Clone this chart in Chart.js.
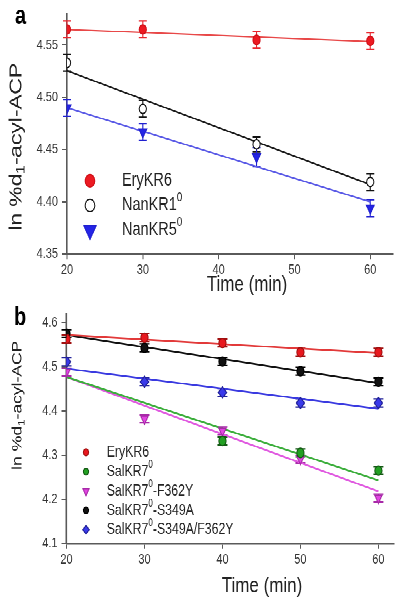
<!DOCTYPE html>
<html>
<head>
<meta charset="utf-8">
<script src="https://cdn.jsdelivr.net/npm/chart.js@4.4.1/dist/chart.umd.min.js"></script>
<style>
  html { overflow: hidden; }
  body { margin: 0; padding: 0; background: #fff; height: 604px; }
  /* The source figure is stretched vertically, so the whole page is drawn
     at its natural size and scaled in y to match. */
  #fig { width: 400px; height: 465px; transform: scale(1, 1.2989); transform-origin: 0 0; }
  .panel { position: relative; width: 400px; }
  #pa { height: 231px; }
  #pb { height: 234px; }
</style>
</head>
<body>
<div id="fig">
  <div class="panel" id="pa"><canvas id="chart-a"></canvas></div>
  <div class="panel" id="pb"><canvas id="chart-b"></canvas></div>
</div>
<script>
const FONT = "'Liberation Sans', Arial, sans-serif";
const AXIS = "#5a5a5a";
const TEXT = "#222";

// ---- panel a ----
const timesA = [20, 30, 45, 60];
const eryKR6A = [4.565, 4.565, 4.555, 4.554];
const nanKR1A = [4.533, 4.489, 4.455, 4.419];
const nanKR5A = [4.490, 4.467, 4.443, 4.394];
const eryErrA = [0.008, 0.008, 0.008, 0.008];
const nan1ErrA = [0.008, 0.008, 0.007, 0.008];
const nan5ErrA = [0.008, 0.008, 0.009, 0.008];
const fitX = [20, 60];
const eryFitA = [4.565, 4.5535];
const nan1FitA = [4.5255, 4.4165];
const nan5FitA = [4.490, 4.400];
const xTicksA = [20, 30, 40, 50, 60];
const yTicksA = [4.35, 4.40, 4.45, 4.50, 4.55];
const labelsA = ["EryKR6", "NanKR1⁰", "NanKR5⁰"];

// ---- panel b ----
const timesB = [20, 30, 40, 50, 60];
const eryKR6B = [4.563, 4.566, 4.554, 4.533, 4.533];
const salKR7B = [null, null, 4.332, 4.305, 4.265];
const f362yB = [4.488, 4.382, 4.355, 4.291, 4.203];
const s349aB = [4.575, 4.543, 4.512, 4.490, 4.466];
const doubleB = [4.511, 4.466, 4.442, 4.418, 4.418];
const errB = [0.009, 0.009, 0.009, 0.009, 0.009];
const eryFitB = [4.572, 4.531];
const salFitB = [4.477, 4.243];
const f362yFitB = [4.477, 4.218];
const s349aFitB = [4.572, 4.463];
const doubleFitB = [4.496, 4.405];
const xTicksB = [20, 30, 40, 50, 60];
const yTicksB = [4.1, 4.2, 4.3, 4.4, 4.5, 4.6];
const labelsB = ["EryKR6", "SalKR7⁰", "SalKR7⁰-F362Y", "SalKR7⁰-S349A", "SalKR7⁰-S349A/F362Y"];

const yTitle = "ln %d₁-acyl-ACP";
const xTitle = "Time (min)";

const pts = (xs, ys) => xs.map((x, i) => ({ x, y: ys[i] }));

function markers(label, xs, ys, errs, style) {
  return {
    label, data: pts(xs, ys), errors: errs, showLine: false,
    pointStyle: style.shape, pointRadius: style.r, pointRotation: style.rot || 0,
    pointBackgroundColor: style.fill, pointBorderColor: style.edge, pointBorderWidth: 1,
    errColor: style.err || style.edge, legend: style.legend,
  };
}

function fitLine(ys, color, width) {
  return {
    data: pts(fitX, ys), showLine: true, pointRadius: 0,
    borderColor: color, borderWidth: width, fill: false,
  };
}

// Draws "⁰" as a raised small 0 and "₁" as a lowered small 1.
function richText(ctx, str, x, y, size, align, weight = "") {
  const runs = [];
  for (const ch of str) {
    const kind = ch === "⁰" ? "sup" : ch === "₁" ? "sub" : "n";
    const c = kind === "sup" ? "0" : kind === "sub" ? "1" : ch;
    const last = runs[runs.length - 1];
    if (last && last.kind === kind) last.text += c; else runs.push({ kind, text: c });
  }
  const fontFor = (k) => `${weight} ${k === "n" ? size : Math.round(size * 0.68)}px ${FONT}`;
  let total = 0;
  for (const r of runs) { ctx.font = fontFor(r.kind); r.w = ctx.measureText(r.text).width; total += r.w; }
  let cx = align === "center" ? x - total / 2 : x;
  ctx.textAlign = "left";
  ctx.textBaseline = "middle";
  for (const r of runs) {
    ctx.font = fontFor(r.kind);
    const dy = r.kind === "sup" ? -size * 0.42 : r.kind === "sub" ? size * 0.28 : 0;
    ctx.fillText(r.text, cx, y + dy);
    cx += r.w;
  }
}

// Error bars, titles, panel letter and the in-plot legend.
function decor(p) {
  return {
    id: "decor",
    beforeDatasetsDraw(chart) {
      const { ctx, scales } = chart;
      ctx.save();
      chart.data.datasets.forEach((ds) => {
        if (!ds.errors) return;
        ctx.strokeStyle = ds.errColor;
        ctx.lineWidth = 1.1;
        ds.data.forEach((d, i) => {
          if (d.y == null) return;
          const x = scales.x.getPixelForValue(d.x);
          const y1 = scales.y.getPixelForValue(d.y + ds.errors[i]);
          const y2 = scales.y.getPixelForValue(d.y - ds.errors[i]);
          ctx.beginPath();
          ctx.moveTo(x, y1); ctx.lineTo(x, y2);
          ctx.moveTo(x - p.cap, y1); ctx.lineTo(x + p.cap, y1);
          ctx.moveTo(x - p.cap, y2); ctx.lineTo(x + p.cap, y2);
          ctx.stroke();
        });
      });
      ctx.restore();
    },
    afterDraw(chart) {
      const { ctx } = chart;
      ctx.save();
      ctx.fillStyle = "#000";
      richText(ctx, p.letter, p.letterX, p.letterY, 20, "left", "bold");
      ctx.fillStyle = TEXT;
      richText(ctx, xTitle, p.xTitleX, p.xTitleY, 17, "center");
      ctx.save();
      ctx.translate(p.yTitleX, p.yTitleY);
      ctx.rotate(-Math.PI / 2);
      richText(ctx, yTitle, 0, 0, p.yTitleSize, "center");
      ctx.restore();
      const marks = chart.data.datasets.filter((ds) => ds.legend);
      marks.forEach((ds, i) => {
        const y = p.legY + i * p.legStep;
        const m = ds.legend;
        ctx.fillStyle = ds.pointBackgroundColor;
        ctx.strokeStyle = ds.pointBorderColor;
        ctx.lineWidth = 1;
        Chart.helpers.drawPoint(ctx, { pointStyle: ds.pointStyle, radius: m.r, rotation: ds.pointRotation, borderWidth: 1 }, p.legMarkX, y);
        ctx.fillStyle = TEXT;
        richText(ctx, ds.label, p.legTextX, y, p.legSize, "left");
      });
      ctx.restore();
    },
  };
}

function axes(p) {
  const common = (len, pad, size) => ({
    type: "linear",
    grid: { drawOnChartArea: false, drawTicks: true, tickLength: len, color: AXIS, tickColor: AXIS, tickWidth: 1 },
    ticks: { color: "#333", padding: pad, font: { family: FONT, size }, maxRotation: 0 },
  });
  return {
    x: {
      ...common(4, 2, 11), min: p.xMin, max: p.xMax,
      border: { color: AXIS, width: 1.3 },
      afterBuildTicks: (s) => { s.ticks = p.xTicks.map((v) => ({ value: v })); },
      afterFit: (s) => { s.height = p.xH; },
    },
    y: {
      ...common(5, 4, 11), min: p.yMin, max: p.yMax,
      border: { color: AXIS, width: 1.6 },
      afterBuildTicks: (s) => { s.ticks = p.yTicks.map((v) => ({ value: v })); },
      afterFit: (s) => { s.width = p.yW; },
      ticks: { ...common(5, 4, 11).ticks, callback: (v) => v.toFixed(p.dec) },
    },
  };
}

function build(id, p, datasets) {
  return new Chart(document.getElementById(id), {
    type: "scatter",
    data: { datasets },
    options: {
      responsive: true, maintainAspectRatio: false, animation: false, devicePixelRatio: 2,
      layout: { padding: { top: p.top, right: p.right, left: 0, bottom: 0 } },
      plugins: { legend: { display: false }, tooltip: { enabled: false } },
      scales: axes(p),
    },
    plugins: [decor(p)],
  });
}

build("chart-a", {
  xMin: 20, xMax: 63, yMin: 4.35, yMax: 4.58, xTicks: xTicksA, yTicks: yTicksA, dec: 2,
  top: 3.85, right: 7, xH: 35.4, yW: 67, cap: 4,
  letter: "a", letterX: 15, letterY: 13,
  xTitleX: 247, xTitleY: 219.5, yTitleX: 16.5, yTitleY: 113, yTitleSize: 17.5,
  legMarkX: 90, legTextX: 122, legY: 139.2, legStep: 19, legSize: 14.5,
}, [
  markers(labelsA[0], timesA, eryKR6A, eryErrA, { shape: "circle", r: 3.6, fill: "#ec1a22", edge: "#d01018", err: "#e8262e", legend: { r: 4.8 } }),
  markers(labelsA[1], timesA, nanKR1A, nan1ErrA, { shape: "circle", r: 3.6, fill: "#fff", edge: "#111", legend: { r: 4.8 } }),
  markers(labelsA[2], timesA, nanKR5A, nan5ErrA, { shape: "triangle", rot: 180, r: 4.6, fill: "#2424e6", edge: "#2020d0", legend: { r: 7.2 } }),
  fitLine(eryFitA, "#e84848", 1.2),
  fitLine(nan1FitA, "#1a1a1a", 1.3),
  fitLine(nan5FitA, "#5a5ae6", 1.2),
]);

build("chart-b", {
  xMin: 20, xMax: 62, yMin: 4.1, yMax: 4.62, xTicks: xTicksB, yTicks: yTicksB, dec: 1,
  top: 1.5, right: 6, xH: 46.6, yW: 66.5, cap: 5,
  letter: "b", letterX: 14, letterY: 14,
  xTitleX: 262, xTitleY: 220.5, yTitleX: 18, yTitleY: 81, yTitleSize: 13.5,
  legMarkX: 86, legTextX: 106.7, legY: 117.2, legStep: 14.9, legSize: 12.3,
}, [
  markers(labelsB[0], timesB, eryKR6B, errB, { shape: "circle", r: 3.6, fill: "#e8181e", edge: "#a01010", legend: { r: 2.6 } }),
  markers(labelsB[1], timesB, salKR7B, errB, { shape: "circle", r: 3.6, fill: "#22a022", edge: "#145a14", legend: { r: 2.6 } }),
  markers(labelsB[2], timesB, f362yB, errB, { shape: "triangle", rot: 180, r: 4.2, fill: "#e246e2", edge: "#a82aa8", legend: { r: 3.6 } }),
  markers(labelsB[3], timesB, s349aB, errB, { shape: "circle", r: 3.6, fill: "#111", edge: "#000", legend: { r: 2.6 } }),
  markers(labelsB[4], timesB, doubleB, errB, { shape: "rectRot", r: 4.2, fill: "#3a3aea", edge: "#22229a", legend: { r: 3.2 } }),
  fitLine(eryFitB, "#e23a3a", 1.4),
  fitLine(salFitB, "#3cae3c", 1.4),
  fitLine(f362yFitB, "#e05ae0", 1.4),
  fitLine(s349aFitB, "#111", 1.4),
  fitLine(doubleFitB, "#3a3ae0", 1.4),
]);
</script>
</body>
</html>
